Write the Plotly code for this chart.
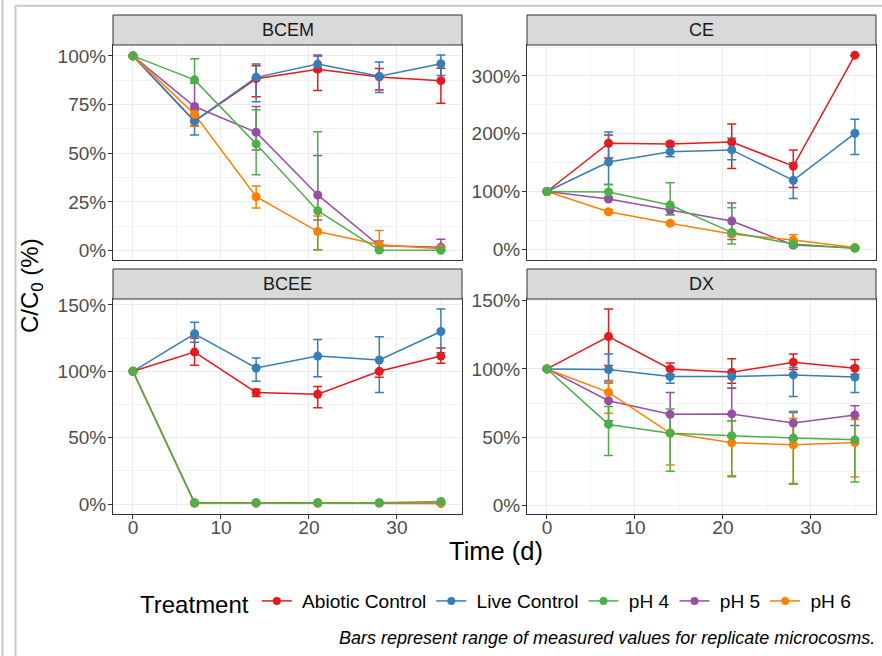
import plotly.graph_objects as go

W, H = 882, 656

days = [0, 7, 14, 21, 28, 35]
treatments = ["Abiotic Control", "Live Control", "pH 4", "pH 5", "pH 6"]
colors = {"Abiotic Control": "#E41A1C", "Live Control": "#377EB8", "pH 4": "#4DAF4A",
          "pH 5": "#984EA3", "pH 6": "#FF7F00"}
compounds = ["BCEM", "CE", "BCEE", "DX"]
draw_order = ["Abiotic Control", "Live Control", "pH 5", "pH 6", "pH 4"]

# values in percent of C0
bcem_mean = {"Abiotic Control": [100, 66.5, 88.3, 93.2, 89.2, 87.3],
             "Live Control": [100, 66.5, 89, 95.8, 89.5, 96],
             "pH 4": [100, 87.7, 54.8, 20.5, 0.3, 0.2],
             "pH 5": [100, 74, 60.8, 28.6, 2.5, 1.8],
             "pH 6": [100, 70, 27.7, 9.8, 3, 1]}
bcem_lo = {"Abiotic Control": [100, 64, 79, 82.2, 82.5, 75.7],
           "Live Control": [100, 59.4, 76.5, 92, 81.2, 90],
           "pH 4": [100, 86, 39, 0.5, 0, 0],
           "pH 5": [100, 72.5, 51.7, 15.8, 0.5, 0.3],
           "pH 6": [100, 64, 21.9, 0.5, 0.5, 0.3]}
bcem_hi = {"Abiotic Control": [100, 69, 95, 100, 93.5, 93.7],
           "Live Control": [100, 72, 95.9, 100.5, 96.9, 100.5],
           "pH 4": [100, 98.6, 72.3, 61, 0.6, 0.4],
           "pH 5": [100, 86, 74, 48.8, 5, 5.8],
           "pH 6": [100, 73, 33.2, 17.8, 10.3, 2]}

ce_mean = {"Abiotic Control": [100, 183.5, 182.3, 185.8, 144, 336],
           "Live Control": [100, 151, 169, 172, 119.4, 200.8],
           "pH 4": [100, 99.2, 76.7, 29.4, 9, 2],
           "pH 5": [100, 87, 68, 49, 7.5, 2.3],
           "pH 6": [100, 65, 45, 26.5, 16, 3]}
ce_lo = {"Abiotic Control": [100, 158, 179, 140, 107, 336],
         "Live Control": [100, 112, 160, 155, 88, 164],
         "pH 4": [100, 91, 60, 9, 5, 1.5],
         "pH 5": [100, 85, 60, 17, 5, 1.5],
         "pH 6": [100, 62, 42, 23, 10, 2]}
ce_hi = {"Abiotic Control": [100, 198, 186, 217, 172, 336],
         "Live Control": [100, 203, 178, 192, 150, 225],
         "pH 4": [100, 112, 115, 72, 13, 3],
         "pH 5": [100, 91, 73, 80, 10, 3],
         "pH 6": [100, 68, 48, 30, 25, 4]}

bcee_mean = {"Abiotic Control": [100, 114.5, 84, 82.7, 100, 111.5],
             "Live Control": [100, 128.3, 102.5, 111.5, 108.5, 130],
             "pH 4": [100, 1, 1, 1, 1, 2],
             "pH 5": [100, 0.8, 0.8, 0.8, 0.8, 0.5],
             "pH 6": [100, 0.7, 0.7, 0.7, 0.7, 0.7]}
bcee_lo = {"Abiotic Control": [100, 104.5, 81, 72.5, 95.5, 106],
           "Live Control": [100, 122, 92.5, 96, 84, 114],
           "pH 4": [100, 1, 1, 1, 1, 2],
           "pH 5": [100, 0.8, 0.8, 0.8, 0.8, 0.5],
           "pH 6": [100, 0.7, 0.7, 0.7, 0.7, 0.7]}
bcee_hi = {"Abiotic Control": [100, 125, 86.5, 88.5, 101, 117.5],
           "Live Control": [100, 137, 110, 124, 126, 147],
           "pH 4": [100, 1, 1, 1, 1, 2],
           "pH 5": [100, 0.8, 0.8, 0.8, 0.8, 0.5],
           "pH 6": [100, 0.7, 0.7, 0.7, 0.7, 0.7]}

dx_mean = {"Abiotic Control": [100, 123.8, 100, 97.5, 104.9, 100.5],
           "Live Control": [100, 99.5, 94.4, 94.4, 95.6, 94],
           "pH 4": [100, 59.3, 52.9, 51, 49.3, 48],
           "pH 5": [100, 76.7, 66.7, 67, 60.3, 66.2],
           "pH 6": [100, 82.8, 53, 45.8, 44.4, 46]}
dx_lo = {"Abiotic Control": [100, 102.5, 96, 89.5, 99.5, 96],
         "Live Control": [100, 89.7, 89.5, 85.8, 79.7, 82.8],
         "pH 4": [100, 36.5, 25, 21, 16, 17],
         "pH 5": [100, 62, 53, 50, 48, 58.5],
         "pH 6": [100, 67.5, 29.5, 21.6, 15.5, 20.8]}
dx_hi = {"Abiotic Control": [100, 143.9, 104.4, 107.4, 111, 107],
         "Live Control": [100, 111, 101, 98, 101, 102.2],
         "pH 4": [100, 72.5, 70.6, 62, 68.9, 66],
         "pH 5": [100, 91.5, 82.8, 85.8, 68, 73],
         "pH 6": [100, 91, 53.5, 61.8, 63.7, 63]}

x_ticks = [0, 10, 20, 30]
x_minor = [5, 15, 25, 35]
y_ticks = {"BCEM": [0, 0.25, 0.5, 0.75, 1.0], "CE": [0, 1, 2, 3],
           "BCEE": [0, 0.5, 1.0, 1.5], "DX": [0, 0.5, 1.0, 1.5]}
y_minor = {"BCEM": [0.125, 0.375, 0.625, 0.875], "CE": [0.5, 1.5, 2.5, 3.5],
           "BCEE": [0.25, 0.75, 1.25], "DX": [0.25, 0.75, 1.25]}
y_range = {"BCEM": [-0.048, 1.056], "CE": [-0.185, 3.536],
           "BCEE": [-0.075, 1.545], "DX": [-0.064, 1.513]}
x_range = [-2.27, 37.4]

data = {"BCEM": (bcem_mean, bcem_lo, bcem_hi), "CE": (ce_mean, ce_lo, ce_hi),
        "BCEE": (bcee_mean, bcee_lo, bcee_hi), "DX": (dx_mean, dx_lo, dx_hi)}


def px(x):
    return x / W


def py(y):
    return 1 - y / H


# panel geometry (pixels)
panel_x = {"BCEM": (113, 462), "CE": (527, 876), "BCEE": (113, 462), "DX": (527, 876)}
panel_y = {"BCEM": (45, 260), "CE": (45, 260), "BCEE": (299, 514), "DX": (299, 514)}
strip_h = 30
axis_id = {"BCEM": "", "CE": "2", "BCEE": "3", "DX": "4"}

FONT = "Liberation Sans, Arial, sans-serif"
NB = "\u00a0"
fig = go.Figure()

# legend-only traces
for t in treatments:
    fig.add_trace(go.Scatter(x=[None], y=[None], mode="lines+markers", name=NB + t,
                             line=dict(color=colors[t], width=1.5),
                             marker=dict(color=colors[t], size=8)))

for c in compounds:
    mean, lo, hi = data[c]
    aid = axis_id[c]
    # lines + error bars
    for t in draw_order:
        m = [v / 100 for v in mean[t]]
        l = [v / 100 for v in lo[t]]
        h = [v / 100 for v in hi[t]]
        fig.add_trace(go.Scatter(
            x=days, y=m, mode="lines", showlegend=False, hoverinfo="skip",
            line=dict(color=colors[t], width=1.5),
            error_y=dict(type="data", symmetric=False,
                         array=[hh - mm for hh, mm in zip(h, m)],
                         arrayminus=[mm - ll for mm, ll in zip(m, l)],
                         color=colors[t], thickness=1.5, width=4.5),
            xaxis="x" + aid, yaxis="y" + aid))
    for t in draw_order:
        m = [v / 100 for v in mean[t]]
        fig.add_trace(go.Scatter(
            x=days, y=m, mode="markers", showlegend=False, name=t,
            marker=dict(color=colors[t], size=9),
            xaxis="x" + aid, yaxis="y" + aid))

layout = dict(width=W, height=H, margin=dict(l=0, r=0, t=0, b=0, autoexpand=False),
              paper_bgcolor="white", plot_bgcolor="white",
              font=dict(family=FONT, color="#000000"))

TICKFONT = dict(size=19, color="#4D4D4D", family=FONT)
shapes = []
annotations = []
for c in compounds:
    aid = axis_id[c]
    x0, x1 = panel_x[c]
    y0, y1 = panel_y[c]
    bottom = c in ("BCEE", "DX")
    layout["xaxis" + aid] = dict(
        domain=[px(x0), px(x1)], range=x_range, anchor="y" + aid, automargin=False,
        tickvals=x_ticks, ticktext=[str(v) for v in x_ticks],
        showticklabels=bottom, ticks="outside" if bottom else "", ticklen=4,
        ticklabelstandoff=-8,
        tickcolor="#333333", tickwidth=1, tickfont=TICKFONT,
        showgrid=True, gridcolor="#EBEBEB", gridwidth=1.1, zeroline=False,
        showline=True, linecolor="#333333", linewidth=1, mirror=True,
        minor=dict(tickvals=x_minor, showgrid=True, gridcolor="#F2F2F2", gridwidth=0.6, ticks=""))
    layout["yaxis" + aid] = dict(
        domain=[py(y1), py(y0)], range=y_range[c], anchor="x" + aid, automargin=False,
        tickvals=y_ticks[c], tickformat=".0%", ticklabelstandoff=-2,
        ticks="outside", ticklen=4, tickcolor="#333333", tickwidth=1, tickfont=TICKFONT,
        showgrid=True, gridcolor="#EBEBEB", gridwidth=1.1, zeroline=False,
        showline=True, linecolor="#333333", linewidth=1, mirror=True,
        minor=dict(tickvals=y_minor[c], showgrid=True, gridcolor="#F2F2F2", gridwidth=0.6, ticks=""))
    # strip
    shapes.append(dict(type="rect", xref="paper", yref="paper",
                       x0=px(x0), x1=px(x1), y0=py(y0), y1=py(y0 - strip_h),
                       fillcolor="#D9D9D9", line=dict(color="#333333", width=1), layer="above"))
    annotations.append(dict(text=c, xref="paper", yref="paper", x=px((x0 + x1) / 2),
                            y=py(y0 - strip_h / 2), xanchor="center", yanchor="middle",
                            showarrow=False, font=dict(size=18, color="#1A1A1A", family=FONT)))

# axis titles
annotations.append(dict(text="Time (d)", xref="paper", yref="paper", x=px(496), y=py(551),
                        xanchor="center", yanchor="middle", showarrow=False,
                        font=dict(size=25.5, color="#000000", family=FONT)))
annotations.append(dict(text="C/C<sub>0</sub> (%)", xref="paper", yref="paper", x=px(31), y=py(286),
                        xanchor="center", yanchor="middle", textangle=-90, showarrow=False,
                        font=dict(size=24, color="#000000", family=FONT)))
# caption
annotations.append(dict(text="<i>Bars represent range of measured values for replicate microcosms.</i>",
                        xref="paper", yref="paper", x=px(877), y=py(638), xanchor="right",
                        yanchor="middle", showarrow=False,
                        font=dict(size=18, color="#000000", family=FONT)))

# outer frame lines (screenshot border)
frame_col = "#C8C8C8"
shapes.append(dict(type="line", xref="paper", yref="paper", x0=px(2.5), x1=px(2.5), y0=0, y1=1,
                   line=dict(color=frame_col, width=2)))
shapes.append(dict(type="line", xref="paper", yref="paper", x0=px(15.5), x1=px(15.5), y0=0, y1=py(5),
                   line=dict(color=frame_col, width=2)))
shapes.append(dict(type="line", xref="paper", yref="paper", x0=px(15), x1=1, y0=py(5.8), y1=py(5.8),
                   line=dict(color=frame_col, width=2)))

layout["shapes"] = shapes
layout["annotations"] = annotations
layout["legend"] = dict(orientation="h", x=px(138), xanchor="left", y=py(603), yanchor="middle",
                        title=dict(text="Treatment", side="left", font=dict(size=24, family=FONT)),
                        font=dict(size=19.1, family=FONT, color="#000000"),
                        bgcolor="rgba(0,0,0,0)", itemwidth=30)
fig.update_layout(**layout)
fig.write_html("out.html")
